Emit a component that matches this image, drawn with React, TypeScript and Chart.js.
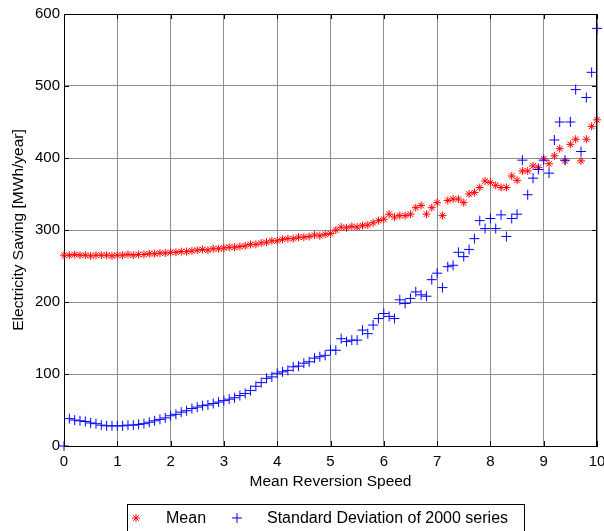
import React, { useEffect, useRef } from 'react';
import { Chart, registerables } from 'chart.js';

Chart.register(...registerables);

// ---- data -------------------------------------------------------------
const speed = [
  0, 0.1, 0.2, 0.3, 0.4, 0.5, 0.6, 0.7, 0.8, 0.9,
  1, 1.1, 1.2, 1.3, 1.4, 1.5, 1.6, 1.7, 1.8, 1.9,
  2, 2.1, 2.2, 2.3, 2.4, 2.5, 2.6, 2.7, 2.8, 2.9,
  3, 3.1, 3.2, 3.3, 3.4, 3.5, 3.6, 3.7, 3.8, 3.9,
  4, 4.1, 4.2, 4.3, 4.4, 4.5, 4.6, 4.7, 4.8, 4.9,
  5, 5.1, 5.2, 5.3, 5.4, 5.5, 5.6, 5.7, 5.8, 5.9,
  6, 6.1, 6.2, 6.3, 6.4, 6.5, 6.6, 6.7, 6.8, 6.9,
  7, 7.1, 7.2, 7.3, 7.4, 7.5, 7.6, 7.7, 7.8, 7.9,
  8, 8.1, 8.2, 8.3, 8.4, 8.5, 8.6, 8.7, 8.8, 8.9,
  9, 9.1, 9.2, 9.3, 9.4, 9.5, 9.6, 9.7, 9.8, 9.9,
  10,
];

const meanSaving = [
  265, 265, 266, 265, 265, 264, 265, 265, 265, 264,
  265, 265, 266, 265, 266, 266, 267, 267, 268, 268,
  269, 269, 270, 270, 271, 272, 273, 272, 274, 274,
  275, 276, 276, 277, 278, 280, 280, 282, 283, 285,
  285, 287, 288, 288, 290, 290, 291, 293, 292, 294,
  295, 300, 304, 303, 305, 304, 306, 307, 310, 313,
  315, 322, 318, 320, 320, 322, 331, 334, 322, 331,
  338, 320, 341, 343, 343, 338, 350, 352, 359, 368,
  366, 362, 359, 359, 375, 369, 382, 382, 389, 387,
  399, 392, 403, 413, 396, 419, 426, 396, 426, 444,
  453,
];

const stdSaving = [
  0, 38, 36, 35, 34, 32, 31, 29, 28, 28,
  28, 28, 29, 29, 30, 31, 33, 35, 37, 39,
  42, 44, 47, 49, 52, 54, 56, 57, 59, 61,
  63, 65, 67, 70, 73, 77, 83, 88, 94, 96,
  101, 103, 105, 110, 111, 115, 117, 122, 124, 126,
  133, 133, 149, 145, 147, 147, 161, 156, 168, 177,
  184, 180, 177, 203, 198, 205, 214, 210, 208, 231,
  240, 220, 249, 251, 269, 263, 273, 288, 313, 302,
  316, 302, 321, 291, 316, 322, 397, 349, 372, 384,
  397, 379, 425, 450, 397, 450, 495, 409, 484, 519,
  580,
];

const xTicks = [0, 1, 2, 3, 4, 5, 6, 7, 8, 9, 10];
const yTicks = [0, 100, 200, 300, 400, 500, 600];
const seriesLabels = ['Mean', 'Standard Deviation of 2000 series'];
const xTitle = 'Mean Reversion Speed';
const yTitle = 'Electricity Saving [MWh/year]';

// ---- styling ----------------------------------------------------------
const FONT = '"Liberation Sans", Arial, Helvetica, sans-serif';
const RED = '#ff0000';
const BLUE = '#0000ff';
const GRID = '#8e8e8e';

function drawStar(ctx: CanvasRenderingContext2D, x: number, y: number, r: number) {
  const d = r * Math.SQRT1_2;
  ctx.beginPath();
  ctx.moveTo(x - r, y); ctx.lineTo(x + r, y);
  ctx.moveTo(x, y - r); ctx.lineTo(x, y + r);
  ctx.moveTo(x - d, y - d); ctx.lineTo(x + d, y + d);
  ctx.moveTo(x - d, y + d); ctx.lineTo(x + d, y - d);
  ctx.stroke();
}
function drawPlus(ctx: CanvasRenderingContext2D, x: number, y: number, r: number) {
  ctx.beginPath();
  ctx.moveTo(x - r, y); ctx.lineTo(x + r, y);
  ctx.moveTo(x, y - r); ctx.lineTo(x, y + r);
  ctx.stroke();
}

const framePlugin = {
  id: 'frameAndLegend',
  afterDraw(chart: any) {
    const { ctx, chartArea: a, scales } = chart;
    ctx.save();
    // frame (top + right; left/bottom are axis borders)
    ctx.strokeStyle = '#000';
    ctx.lineWidth = 1;
    ctx.beginPath();
    ctx.moveTo(a.left, a.top + 0.5);
    ctx.lineTo(a.right, a.top + 0.5);
    ctx.moveTo(a.right - 0.5, a.top);
    ctx.lineTo(a.right - 0.5, a.bottom);
    ctx.stroke();
    // inward tick marks
    const tl = 5;
    ctx.beginPath();
    xTicks.forEach((v) => {
      const px = Math.round(scales.x.getPixelForValue(v)) + 0.5;
      ctx.moveTo(px, a.bottom); ctx.lineTo(px, a.bottom - tl);
      ctx.moveTo(px, a.top); ctx.lineTo(px, a.top + tl);
    });
    yTicks.forEach((v) => {
      const py = Math.round(scales.y.getPixelForValue(v)) + 0.5;
      ctx.moveTo(a.left, py); ctx.lineTo(a.left + tl, py);
      ctx.moveTo(a.right, py); ctx.lineTo(a.right - tl, py);
    });
    ctx.stroke();

    // legend box
    ctx.strokeStyle = '#000';
    ctx.lineWidth = 1;
    ctx.strokeRect(127.5, 504.5, 397, 40);
    ctx.lineWidth = 1;
    ctx.strokeStyle = RED;
    drawStar(ctx, 136, 518, 4);
    ctx.strokeStyle = BLUE;
    drawPlus(ctx, 237, 518, 5);
    ctx.fillStyle = '#000';
    ctx.font = `16px ${FONT}`;
    ctx.textBaseline = 'middle';
    ctx.textAlign = 'left';
    ctx.fillText(seriesLabels[0], 166, 519);
    ctx.fillText(seriesLabels[1], 267, 519);
    ctx.restore();
  },
};

export default function App() {
  const ref = useRef<HTMLCanvasElement>(null);

  useEffect(() => {
    if (!ref.current) return;
    Chart.defaults.font.family = FONT;
    const chart = new Chart(ref.current, {
      type: 'scatter',
      data: {
        datasets: [
          {
            label: seriesLabels[1],
            data: speed.map((x, i) => ({ x, y: stdSaving[i] })),
            pointStyle: 'cross',
            pointRadius: 5,
            pointBorderWidth: 1,
            borderColor: BLUE,
            backgroundColor: BLUE,
            showLine: false,
            clip: false,
            order: 0,
          },
          {
            label: seriesLabels[0],
            data: speed.map((x, i) => ({ x, y: meanSaving[i] })),
            pointStyle: 'star',
            pointRadius: 4,
            pointBorderWidth: 1,
            borderColor: RED,
            backgroundColor: RED,
            showLine: false,
            clip: false,
            order: 1,
          },
        ],
      } as any,
      options: {
        responsive: false,
        devicePixelRatio: 1,
        animation: false,
        layout: { padding: { top: 14, right: 7, left: 0, bottom: 0 } },
        plugins: {
          legend: { display: false },
          tooltip: { enabled: false },
        },
        events: [],
        scales: {
          x: {
            type: 'linear',
            min: 0,
            max: 10,
            afterBuildTicks: (s: any) => { s.ticks = xTicks.map((v) => ({ value: v })); },
            ticks: { color: '#000', padding: 7, font: { size: 15 }, maxRotation: 0, autoSkip: false },
            grid: { color: GRID, lineWidth: 1, drawTicks: false },
            border: { color: '#000', width: 1 },
            title: {
              display: true,
              text: xTitle,
              color: '#000',
              font: { size: 15.5 },
              padding: { top: 0, bottom: 40 },
            },
            afterFit: (s: any) => { s.height = 85; s.paddingLeft = 0; s.paddingRight = 0; },
          },
          y: {
            type: 'linear',
            min: 0,
            max: 600,
            afterBuildTicks: (s: any) => { s.ticks = yTicks.map((v) => ({ value: v })); },
            ticks: { color: '#000', padding: 4, font: { size: 15 } },
            grid: { color: GRID, lineWidth: 1, drawTicks: false },
            border: { color: '#000', width: 1 },
            title: {
              display: true,
              text: yTitle,
              color: '#000',
              font: { size: 15.5 },
              padding: { top: 9, bottom: 0 },
            },
            afterFit: (s: any) => { s.width = 64; s.paddingTop = 0; s.paddingBottom = 0; },
          },
        },
      } as any,
      plugins: [framePlugin],
    });
    return () => chart.destroy();
  }, []);

  return (
    <div style={{ position: 'fixed', left: 0, top: 0, width: 604, height: 531, background: '#fff' }}>
      <canvas ref={ref} width={604} height={531} style={{ display: 'block', width: 604, height: 531 }} />
    </div>
  );
}
